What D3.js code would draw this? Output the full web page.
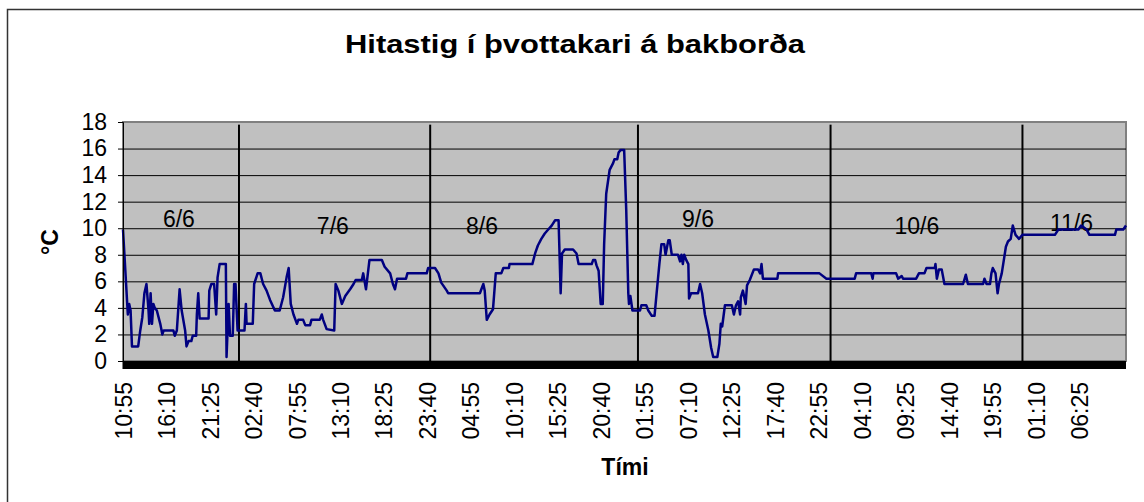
<!DOCTYPE html>
<html>
<head>
<meta charset="utf-8">
<script src="https://cdn.jsdelivr.net/npm/d3@7"></script>
<style>
  body { margin: 0; background: #fff; }
  text { font-family: Arial, "Liberation Sans", sans-serif; }
</style>
</head>
<body>
<svg width="1144" height="502"></svg>
<script>
// readings are on a category axis (one category per logged sample)
let nSamples = 1453;

// sample index of each corner of the trace, and the temperature there
let sampleIdx = [
  0, 7, 9, 11, 13, 22, 25, 28, 31, 34, 37, 38, 40, 42, 44, 46, 49, 54, 57, 59,
  73, 75, 78, 82, 85, 90, 92, 95, 99, 101, 106, 107, 109, 111, 124, 125, 128, 132, 135, 137,
  140, 149, 150, 153, 155, 159, 161, 163, 166, 176, 178, 179, 188, 190, 195, 199, 203, 208, 213, 220,
  227, 232, 237, 240, 243, 247, 252, 254, 261, 264, 271, 273, 285, 288, 290, 295, 306, 308, 312, 317,
  322, 329, 334, 337, 346, 348, 352, 357, 375, 379, 387, 391, 394, 397, 410, 412, 440, 442, 452, 457,
  461, 469, 471, 517, 522, 524, 527, 531, 536, 540, 548, 551, 559, 560, 593, 597, 601, 606, 611, 616,
  621, 626, 631, 634, 636, 640, 652, 657, 660, 679, 681, 684, 686, 689, 692, 695, 697, 700, 705, 710,
  712, 716, 718, 721, 726, 729, 732, 733, 735, 738, 749, 751, 758, 761, 766, 770, 773, 777, 780, 784,
  786, 790, 792, 795, 804, 807, 809, 811, 813, 816, 819, 820, 823, 833, 836, 839, 843, 848, 852, 855,
  861, 864, 866, 868, 872, 882, 885, 888, 891, 894, 895, 898, 902, 904, 908, 914, 920, 923, 925, 927,
  948, 949, 1009, 1019, 1060, 1062, 1084, 1086, 1087, 1120, 1123, 1128, 1130, 1149, 1153, 1161, 1164, 1176, 1177, 1179,
  1182, 1186, 1190, 1217, 1221, 1224, 1246, 1248, 1251, 1256, 1258, 1260, 1264, 1267, 1269, 1273, 1276, 1279, 1282, 1286,
  1289, 1293, 1298, 1303, 1350, 1355, 1384, 1388, 1396, 1400, 1437, 1439, 1449, 1453
];
let tempC = [
  9.9, 3.5, 4.3, 3.8, 1.1, 1.1, 2.3, 3.3, 5.1, 5.8, 3.8, 2.8, 5.1, 2.8, 4.3, 4.0, 3.8, 2.8, 2.0, 2.3,
  2.3, 1.9, 2.3, 5.4, 3.8, 2.3, 1.1, 1.5, 1.5, 1.9, 1.9, 3.5, 5.1, 3.2, 3.2, 5.3, 5.8, 5.8, 3.5, 6.3,
  7.3, 7.3, 0.3, 4.3, 1.9, 1.9, 5.8, 5.8, 2.3, 2.3, 4.3, 2.8, 2.8, 5.8, 6.6, 6.6, 5.8, 5.3, 4.6, 3.8,
  3.8, 4.8, 6.3, 7.0, 4.3, 3.5, 2.8, 3.1, 3.1, 2.7, 2.7, 3.1, 3.1, 3.5, 3.1, 2.4, 2.3, 5.8, 5.3, 4.3,
  4.9, 5.4, 5.8, 6.1, 6.1, 6.6, 5.4, 7.6, 7.6, 7.1, 6.6, 5.8, 5.4, 6.2, 6.2, 6.6, 6.6, 7.0, 7.0, 6.6,
  5.9, 5.3, 5.1, 5.1, 5.8, 5.3, 3.1, 3.5, 3.9, 6.6, 6.6, 7.0, 7.0, 7.3, 7.3, 8.1, 8.7, 9.2, 9.6, 9.9,
  10.2, 10.6, 10.6, 5.1, 8.1, 8.4, 8.4, 8.1, 7.3, 7.3, 7.6, 7.6, 7.2, 6.8, 4.3, 4.3, 8.8, 12.6, 14.4, 14.9,
  15.2, 15.2, 15.7, 15.9, 15.9, 11.4, 5.1, 4.3, 4.9, 3.8, 3.8, 4.2, 4.2, 3.8, 3.4, 3.4, 5.1, 7.3, 8.8, 8.8,
  8.0, 9.1, 9.1, 8.0, 8.0, 7.5, 8.0, 7.3, 8.0, 7.6, 7.3, 4.7, 5.1, 5.1, 5.8, 5.1, 3.5, 2.3, 1.0, 0.3,
  0.3, 1.3, 2.8, 2.6, 4.2, 4.2, 3.5, 4.2, 4.5, 3.5, 4.8, 5.3, 4.3, 5.7, 6.1, 6.9, 6.9, 6.6, 7.3, 6.2,
  6.2, 6.6, 6.6, 6.2, 6.2, 6.6, 6.6, 6.2, 6.6, 6.6, 6.2, 6.4, 6.2, 6.2, 6.6, 6.6, 7.0, 7.0, 7.3, 6.2,
  6.9, 6.9, 5.8, 5.8, 6.5, 5.8, 5.8, 6.2, 5.8, 5.8, 6.6, 7.0, 6.6, 5.1, 5.8, 6.6, 7.6, 8.6, 9.0, 9.2,
  10.2, 9.5, 9.2, 9.5, 9.5, 9.9, 9.9, 10.2, 9.9, 9.5, 9.5, 9.9, 9.9, 10.2
];

let timeLabels = ["10:55", "16:10", "21:25", "02:40", "07:55", "13:10", "18:25", "23:40",
  "04:55", "10:10", "15:25", "20:40", "01:55", "07:10", "12:25", "17:40", "22:55",
  "04:10", "09:25", "14:40", "19:55", "01:10", "06:25"];
let labelEvery = 63;

let dayStarts = [168, 445, 746, 1025, 1303];
let dayNames = ["6/6", "7/6", "8/6", "9/6", "10/6", "11/6"];
let dayNameIdx = [81, 304, 520, 833, 1150, 1374];
let dayNameTemp = [10.1, 9.6, 9.6, 10.1, 9.6, 9.8];

let yTicks = [0, 2, 4, 6, 8, 10, 12, 14, 16, 18];

let svg = d3.select('svg');
let plotLeft = 123, plotRight = 1126, plotTop = 122, plotBottom = 361;

let x = d3.scaleLinear().domain([0, nSamples]).range([plotLeft, plotRight]);
let y = d3.scaleLinear().domain([0, 18]).range([plotBottom, plotTop]);

// outer chart frame (right and bottom edges fall outside the picture)
svg.append('rect')
   .attr('x', 7.5).attr('y', 9.5)
   .attr('width', 1150).attr('height', 510)
   .attr('fill', '#fff')
   .attr('stroke', '#333').attr('stroke-width', 1.5);

svg.append('text')
   .attr('x', 575).attr('y', 53)
   .attr('text-anchor', 'middle')
   .attr('textLength', 460).attr('lengthAdjust', 'spacingAndGlyphs')
   .style('font-size', '26px').style('font-weight', 'bold')
   .text('Hitastig í þvottakari á bakborða');

// plot area
svg.append('rect')
   .attr('x', plotLeft).attr('y', plotTop)
   .attr('width', plotRight - plotLeft).attr('height', plotBottom - plotTop)
   .attr('fill', '#c0c0c0')
   .attr('stroke', '#808080').attr('stroke-width', 2);

// horizontal gridlines
svg.append('g')
   .attr('transform', `translate(${plotLeft},0)`)
   .call(d3.axisLeft(y).tickValues(yTicks.slice(1, -1)).tickSize(-(plotRight - plotLeft)).tickFormat(''))
   .call(g => g.select('.domain').remove())
   .selectAll('line').attr('stroke', '#000');

// day separators
svg.append('g').selectAll('line')
   .data(dayStarts)
   .enter()
   .append('line')
   .attr('x1', d => x(d)).attr('x2', d => x(d))
   .attr('y1', y(17.8)).attr('y2', plotBottom)
   .attr('stroke', '#000').attr('stroke-width', 2);

svg.append('g').selectAll('text')
   .data(dayNames)
   .enter()
   .append('text')
   .attr('x', (d, i) => x(dayNameIdx[i]))
   .attr('y', (d, i) => y(dayNameTemp[i]))
   .attr('text-anchor', 'middle')
   .style('font-size', '23px')
   .text(d => d);

// the temperature trace
let tempLine = d3.line()
   .x((d, i) => x(sampleIdx[i]))
   .y(d => y(d));

svg.append('path')
   .datum(tempC)
   .attr('d', tempLine)
   .attr('fill', 'none')
   .attr('stroke', '#000080')
   .attr('stroke-width', 2.5)
   .attr('stroke-linejoin', 'round');

// y axis
svg.append('g')
   .attr('transform', `translate(${plotLeft},0)`)
   .call(d3.axisLeft(y).tickValues(yTicks).tickSize(5).tickPadding(11))
   .call(g => g.select('.domain').attr('stroke', '#000'))
   .call(g => g.selectAll('text').style('font-size', '23px').attr('fill', '#000'));

// time labels
svg.append('g')
   .attr('transform', `translate(0,${plotBottom})`)
   .call(d3.axisBottom(x)
      .tickValues(timeLabels.map((d, i) => i * labelEvery))
      .tickFormat((d, i) => timeLabels[i])
      .tickSize(0))
   .call(g => g.select('.domain').remove())
   .selectAll('text')
   .style('font-size', '23px')
   .attr('fill', '#000')
   .attr('transform', 'rotate(-90)')
   .attr('x', -21).attr('y', 0).attr('dy', '0.35em')
   .style('text-anchor', 'end');

// axis titles
svg.append('text')
   .attr('transform', 'translate(58,242) rotate(-90)')
   .attr('text-anchor', 'middle')
   .style('font-size', '23px').style('font-weight', 'bold')
   .text('°C');

svg.append('text')
   .attr('x', 625).attr('y', 475)
   .attr('text-anchor', 'middle')
   .style('font-size', '23px').style('font-weight', 'bold')
   .text('Tími');

// the per-sample tick marks merge into a solid band under the plot
svg.append('rect')
   .attr('x', x(0)).attr('y', plotBottom)
   .attr('width', x(nSamples) - x(0)).attr('height', 8)
   .attr('fill', '#000');

svg.append('g')
   .selectAll('line')
   .data(d3.range(0, nSamples))
   .enter()
   .append('line')
   .attr('x1', d => x(d)).attr('x2', d => x(d))
   .attr('y1', plotBottom).attr('y2', plotBottom + 8)
   .attr('stroke', '#000');
</script>
</body>
</html>
